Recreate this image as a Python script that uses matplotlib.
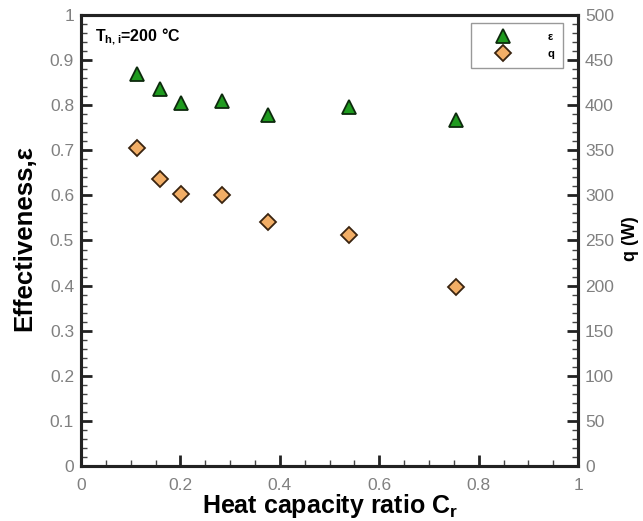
import matplotlib
matplotlib.use("Agg")
import matplotlib.pyplot as plt
from matplotlib.ticker import MultipleLocator, FuncFormatter

# data
cr = [0.113, 0.159, 0.201, 0.284, 0.376, 0.539, 0.755]
eff = [0.870, 0.835, 0.805, 0.810, 0.778, 0.795, 0.768]
q = [352, 318, 302, 300, 271, 256, 198]

x_ticks = [0, 0.2, 0.4, 0.6, 0.8, 1]
eff_ticks = [0, 0.1, 0.2, 0.3, 0.4, 0.5, 0.6, 0.7, 0.8, 0.9, 1]
q_ticks = [0, 50, 100, 150, 200, 250, 300, 350, 400, 450, 500]

plt.rcParams['font.family'] = ['Liberation Sans', 'DejaVu Sans']
plt.rcParams['mathtext.fontset'] = 'custom'
plt.rcParams['mathtext.bf'] = 'Liberation Sans:bold'
plt.rcParams['mathtext.rm'] = 'Liberation Sans:bold'

fig = plt.figure(figsize=(6.43, 5.21), dpi=100)
ax = fig.add_axes([0.126, 0.1056, 0.773, 0.8656])
ax2 = ax.twinx()

tick_col = '#808080'


def fmt(v, pos):
    return ('%g' % v)


ax.set_xlim(0, 1)
ax.set_ylim(0, 1)
ax2.set_ylim(0, 500)
ax.set_xticks(x_ticks)
ax.set_yticks(eff_ticks)
ax2.set_yticks(q_ticks)
ax.xaxis.set_major_formatter(FuncFormatter(fmt))
ax.yaxis.set_major_formatter(FuncFormatter(fmt))
ax.xaxis.set_minor_locator(MultipleLocator(0.05))
ax.yaxis.set_minor_locator(MultipleLocator(0.02))
ax2.yaxis.set_minor_locator(MultipleLocator(10))

for a in (ax, ax2):
    for s in a.spines.values():
        s.set_linewidth(2.2)
        s.set_color('#222222')
    a.tick_params(which='major', direction='in', length=8, width=2, color='#222222',
                  labelsize=12.5, labelcolor=tick_col, pad=5)
    a.tick_params(which='minor', direction='in', length=4, width=1, color='#444444')
ax.tick_params(axis='x', top=False, which='both', pad=9)
ax.tick_params(axis='y', right=False, which='both')

h1, = ax2.plot(cr, [e * 500 for e in eff], linestyle='none', marker='^', markersize=10,
               markerfacecolor='#1f9b1f', markeredgecolor='#0d2a0d', markeredgewidth=1.3,
               label='ε')
h2, = ax2.plot(cr, q, linestyle='none', marker='D', markersize=8,
               markerfacecolor='#f2ae66', markeredgecolor='#3a2410', markeredgewidth=1.3,
               label='q')

ax.set_xlabel(r'Heat capacity ratio C$_\mathbf{r}$', fontsize=18, fontweight='bold')
ax.xaxis.set_label_coords(0.5, -0.058)
ax.set_ylabel('Effectiveness,ε', fontsize=18.5, fontweight='bold')
ax.yaxis.set_label_coords(-0.09, 0.505)
ax2.set_ylabel('q (W)', fontsize=13, fontweight='bold', rotation=90)
ax2.yaxis.set_label_coords(1.088, 0.505)

ax.text(0.028, 0.952, r'T$_\mathbf{h,i}$=200 °C', transform=ax.transAxes,
        fontsize=11.5, fontweight='bold', va='center', ha='left')

leg = ax2.legend(handles=[h1, h2], loc='upper right', bbox_to_anchor=(0.970, 0.982),
                 fancybox=False, edgecolor='#999999', framealpha=1,
                 prop={'weight': 'bold', 'size': 8}, handlelength=4.2, handletextpad=1.9,
                 borderpad=0.8, labelspacing=0.65, borderaxespad=0)
leg.get_frame().set_linewidth(1.0)

fig.savefig('out.png', dpi=100)
